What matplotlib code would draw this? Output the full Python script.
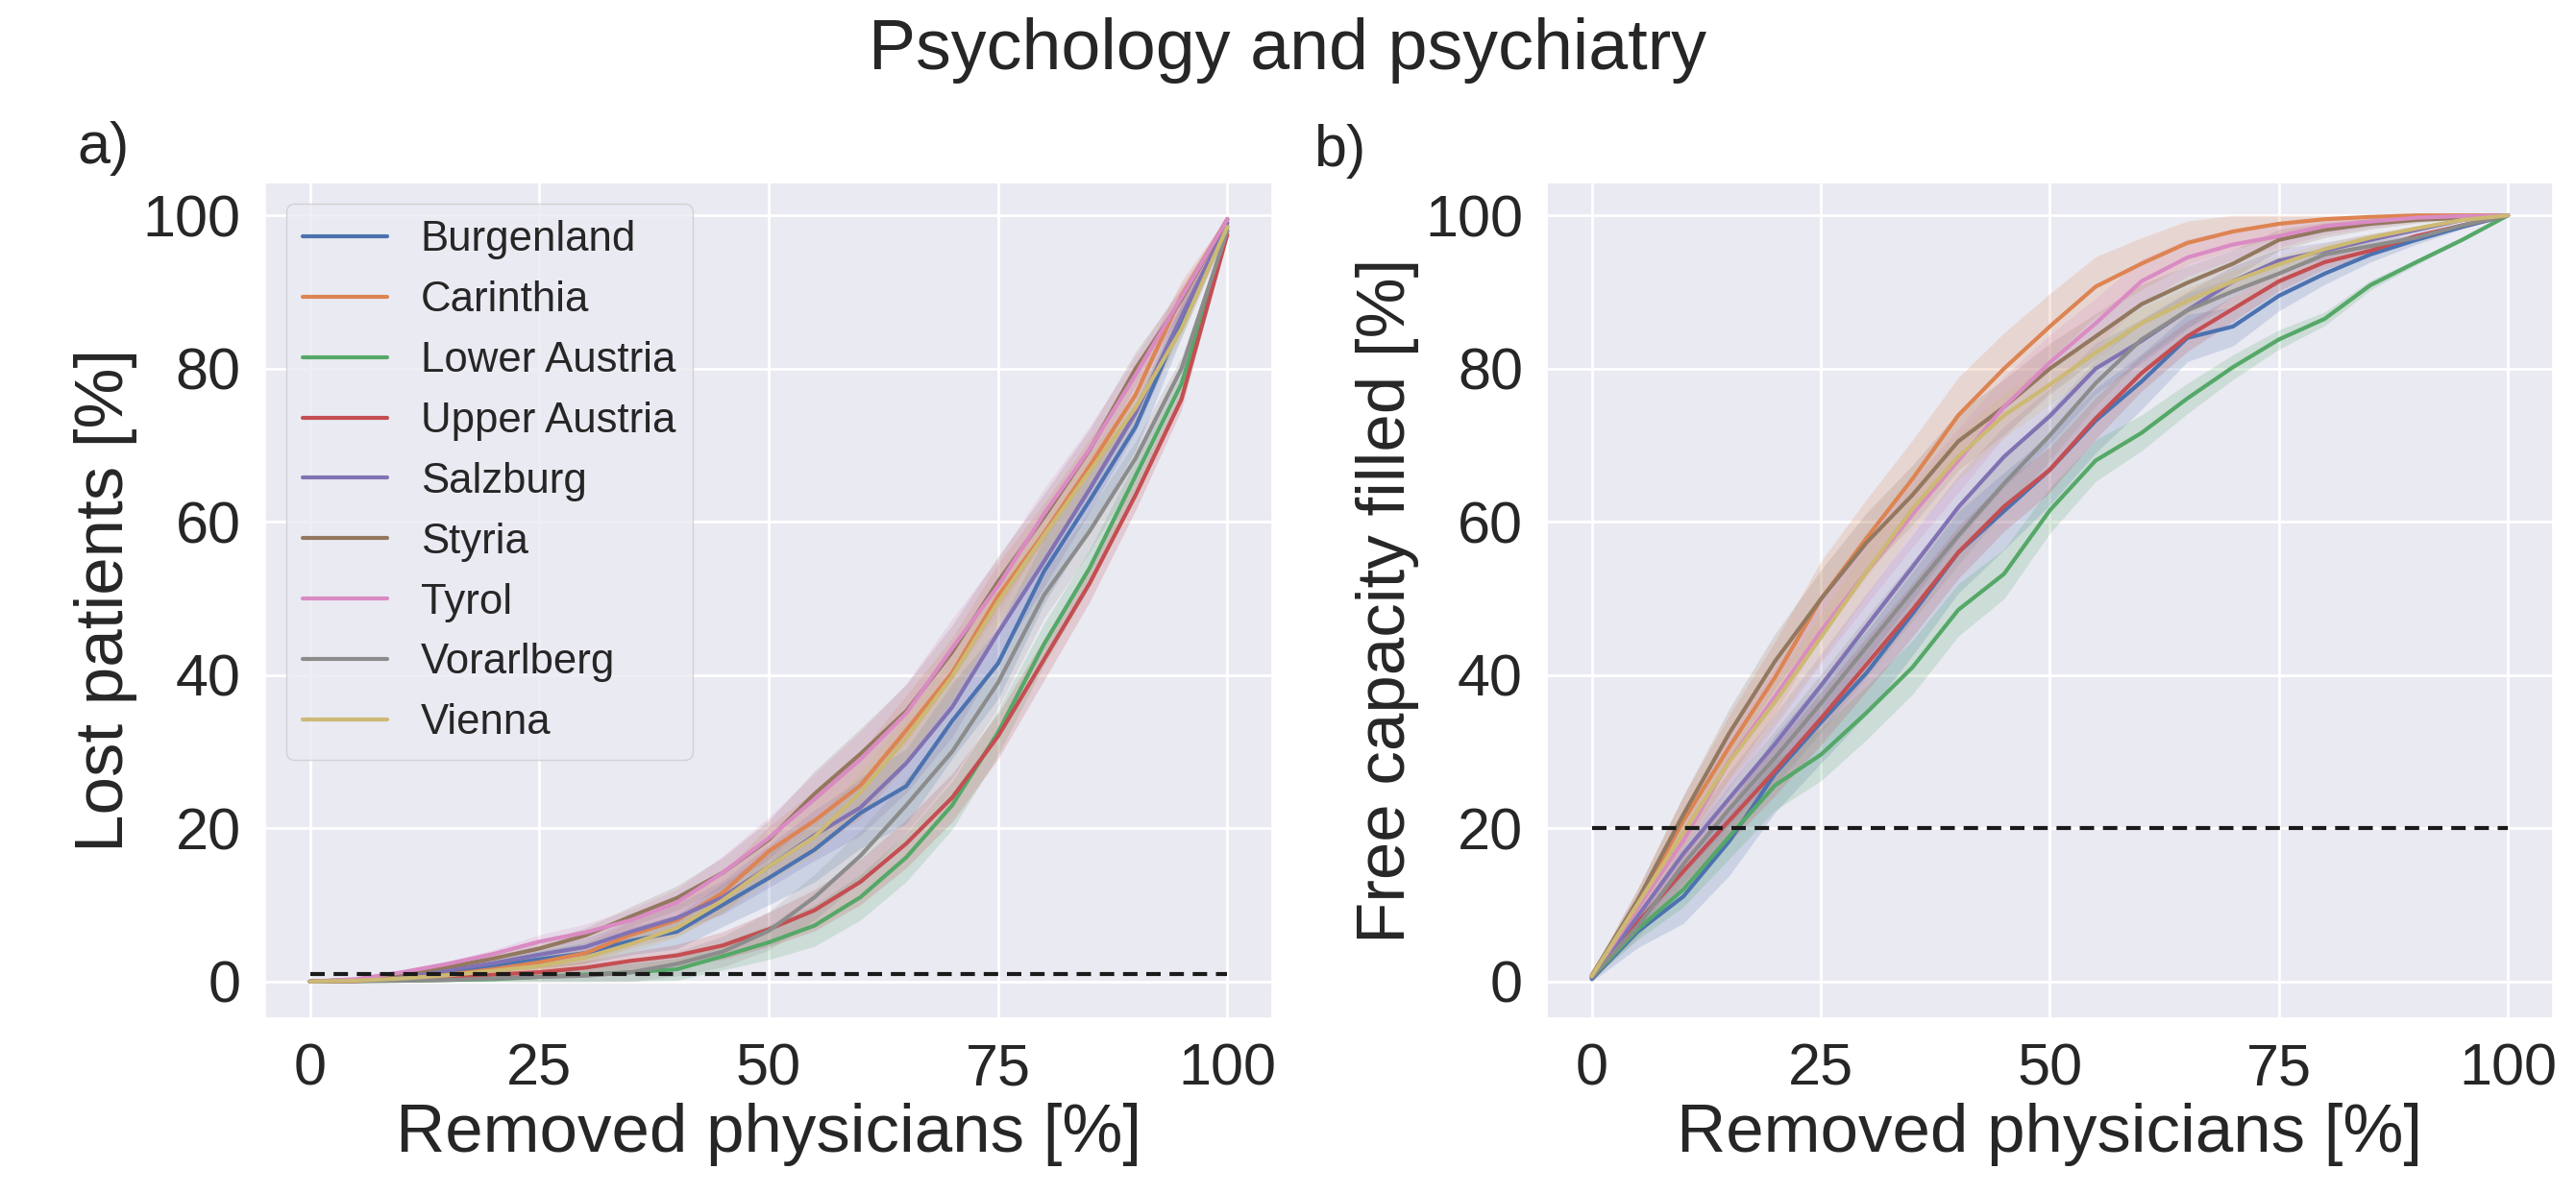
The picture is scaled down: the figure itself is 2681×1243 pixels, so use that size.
import numpy as np
import matplotlib
matplotlib.use("Agg")
import matplotlib.pyplot as plt
import seaborn as sns

# share of removed physicians [%]
removed = [0, 5, 10, 15, 20, 25, 30, 35, 40, 45, 50,
           55, 60, 65, 70, 75, 80, 85, 90, 95, 100]

regions = ["Burgenland", "Carinthia", "Lower Austria", "Upper Austria",
           "Salzburg", "Styria", "Tyrol", "Vorarlberg", "Vienna"]

# a) lost patients [%]
lost_burgenland = [0, 0.2, 0.6, 1.2, 2.0, 2.9, 3.7, 5.3, 6.5, 10.0, 13.5,
                   17.2, 22.0, 25.5, 34.0, 41.5, 53.5, 62.8, 72.4, 86.2, 98.5]
lost_carinthia = [0, 0.1, 0.4, 0.9, 1.6, 2.5, 3.7, 6.1, 8.0, 11.6, 17.0,
                  21.0, 25.6, 32.8, 40.3, 50.3, 58.5, 67.3, 76.6, 89.5, 99.5]
lost_lower_austria = [0, 0.05, 0.1, 0.2, 0.3, 0.6, 0.9, 1.2, 1.6, 3.3, 5.1,
                      7.3, 11.0, 16.2, 23.0, 32.5, 44.0, 54.0, 66.0, 78.0, 98.0]
lost_upper_austria = [0, 0.05, 0.3, 0.6, 0.9, 1.2, 1.8, 2.7, 3.4, 4.7, 6.8,
                      9.3, 13.0, 18.0, 24.0, 32.0, 42.0, 52.0, 63.5, 76.0, 97.5]
lost_salzburg = [0, 0.2, 0.8, 1.5, 2.4, 3.5, 4.5, 6.5, 8.3, 11.0, 15.0,
                 19.1, 22.7, 28.5, 35.8, 45.5, 54.8, 64.3, 74.2, 86.8, 99.0]
lost_styria = [0, 0.2, 1.0, 1.9, 3.0, 4.3, 6.0, 8.5, 10.9, 14.2, 18.5,
               24.5, 29.7, 35.3, 43.0, 52.2, 60.6, 69.4, 80.0, 89.0, 99.5]
lost_tyrol = [0, 0.3, 1.2, 2.3, 3.6, 5.2, 6.4, 8.0, 10.3, 14.2, 18.7,
              23.8, 29.0, 35.0, 43.5, 51.6, 61.0, 69.5, 79.2, 89.3, 99.5]
lost_vorarlberg = [0, 0.05, 0.1, 0.2, 0.4, 0.6, 0.75, 1.2, 2.3, 3.9, 6.6,
                   11.0, 16.4, 23.0, 30.0, 39.0, 50.4, 58.8, 68.3, 80.0, 98.0]
lost_vienna = [0, 0.1, 0.4, 0.8, 1.4, 2.0, 3.1, 4.9, 7.0, 10.6, 15.0,
               18.9, 24.7, 31.8, 39.8, 49.5, 58.2, 66.6, 74.9, 85.2, 98.5]

# b) free capacity filled [%]
cap_burgenland = [0.3, 6.5, 11.1, 18.3, 27.1, 33.8, 40.3, 48.0, 56.0, 61.4, 66.8,
                  73.2, 78.3, 84.0, 85.5, 89.5, 92.4, 94.9, 96.8, 98.5, 100]
cap_carinthia = [0.8, 10.1, 21.0, 30.6, 39.7, 49.9, 57.9, 65.6, 73.9, 80.0, 85.5,
                 90.7, 93.7, 96.4, 97.9, 98.9, 99.5, 99.8, 100, 100, 100]
cap_lower_austria = [0.5, 6.8, 12.0, 18.9, 25.6, 29.6, 35.1, 41.0, 48.5, 53.2, 61.5,
                     68.0, 71.6, 76.1, 80.2, 83.8, 86.5, 90.9, 93.9, 96.8, 100]
cap_upper_austria = [0.5, 7.7, 14.4, 21.0, 27.5, 34.3, 41.4, 48.5, 56.0, 62.0, 66.8,
                     73.5, 79.4, 84.2, 87.8, 91.4, 93.9, 95.4, 97.3, 98.7, 100]
cap_salzburg = [0.5, 8.5, 16.7, 23.9, 31.0, 38.6, 46.4, 54.1, 61.9, 68.5, 73.8,
                80.0, 83.6, 87.6, 91.4, 94.1, 95.4, 96.8, 98.1, 99.4, 100]
cap_styria = [0.8, 10.6, 21.8, 32.4, 41.8, 49.9, 57.3, 63.5, 70.5, 75.0, 80.0,
              84.2, 88.4, 91.2, 93.7, 96.8, 98.1, 98.9, 99.4, 99.7, 100]
cap_tyrol = [0.7, 9.6, 18.4, 28.8, 37.2, 45.7, 53.5, 61.0, 68.0, 75.0, 80.8,
             85.9, 91.4, 94.5, 96.2, 97.3, 98.6, 99.2, 99.7, 99.9, 100]
cap_vorarlberg = [0.6, 7.2, 15.3, 22.5, 29.2, 36.3, 43.7, 51.0, 58.2, 65.0, 71.3,
                  78.1, 83.8, 87.6, 90.1, 92.4, 94.9, 96.0, 97.1, 98.7, 100]
cap_vienna = [0.7, 10.1, 19.4, 28.7, 36.5, 44.9, 53.5, 61.7, 68.5, 73.9, 77.9,
              82.1, 85.9, 88.8, 91.4, 93.6, 95.6, 97.1, 98.3, 99.4, 100]

# half width of the shaded bands
lost_spread = [0, 0.05, 0.15, 0.3, 0.5, 0.8, 1.0, 1.3, 1.6, 2.0, 2.5,
               3.0, 3.3, 3.5, 3.5, 3.3, 3.0, 2.7, 2.2, 1.5, 0.3]
cap_spread = [0.3, 1.5, 2.5, 3.2, 3.6, 3.8, 3.9, 3.9, 3.8, 3.6, 3.3,
              3.0, 2.6, 2.2, 1.8, 1.4, 1.0, 0.7, 0.4, 0.2, 0.0]
band_scale = [1.4, 1.3, 0.9, 0.9, 1.1, 1.0, 1.1, 1.0, 0.8]

lost_threshold = 1
cap_threshold = 20

lost = [lost_burgenland, lost_carinthia, lost_lower_austria, lost_upper_austria,
        lost_salzburg, lost_styria, lost_tyrol, lost_vorarlberg, lost_vienna]
cap = [cap_burgenland, cap_carinthia, cap_lower_austria, cap_upper_austria,
       cap_salzburg, cap_styria, cap_tyrol, cap_vorarlberg, cap_vienna]

sns.set_theme(style="darkgrid")
plt.rcParams["font.family"] = ["Liberation Sans", "DejaVu Sans"]
plt.rcParams["grid.linewidth"] = 2.0
colors = sns.color_palette("deep", 9)

fig = plt.figure(figsize=(26.81, 12.43), dpi=100)
ax_a = fig.add_axes([0.1029, 0.1472, 0.3910, 0.7000])
ax_b = fig.add_axes([0.6005, 0.1472, 0.3905, 0.7000])


def draw_panel(ax, curves, spread, threshold, ylabel):
    x = np.array(removed)
    for i, name in enumerate(regions):
        y = np.array(curves[i])
        w = np.array(spread) * band_scale[i]
        # percentages: keep the band inside 0..100
        lo = np.clip(y - w, 0, 100)
        hi = np.clip(y + w, 0, 100)
        ax.fill_between(x, lo, hi, color=colors[i], alpha=0.2, linewidth=0)
        ax.plot(x, y, color=colors[i], lw=3.0, label=name)
    ax.hlines(threshold, 0, 100, colors="k", linestyles=(0, (3.6, 2.2)), lw=3.0)
    ax.set_xlim(-4.9, 104.9)
    ax.set_ylim(-4.8, 104.3)
    ax.set_xticks([0, 25, 50, 75, 100])
    ax.set_yticks([0, 20, 40, 60, 80, 100])
    ax.tick_params(labelsize=44, pad=12)
    ax.set_xlabel("Removed physicians [%]", fontsize=51)
    ax.set_ylabel(ylabel, fontsize=51)


draw_panel(ax_a, lost, lost_spread, lost_threshold, "Lost patients [%]")
draw_panel(ax_b, cap, cap_spread, cap_threshold, "Free capacity filled [%]")

ax_a.legend(loc="upper left", fontsize=31.5, handlelength=2.0, framealpha=0.8)

fig.text(0.5, 0.942, "Psychology and psychiatry", ha="center", va="baseline", fontsize=53)
fig.text(0.030, 0.863, "a)", ha="left", va="baseline", fontsize=44)
fig.text(0.510, 0.861, "b)", ha="left", va="baseline", fontsize=44)

fig.savefig("out.png", dpi=100)
